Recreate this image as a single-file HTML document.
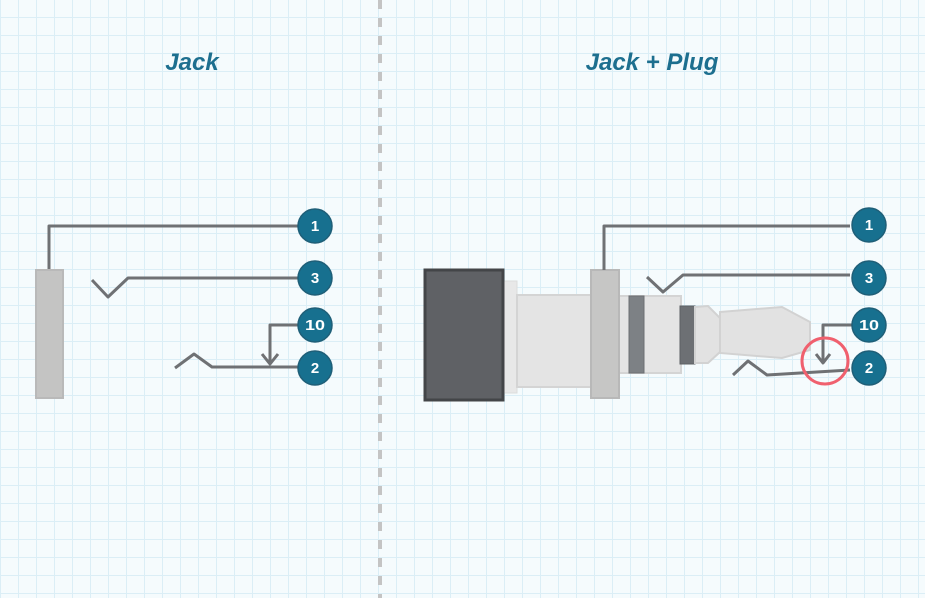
<!DOCTYPE html>
<html><head><meta charset="utf-8"><style>
html,body{margin:0;padding:0;background:#f5fbfd;}
svg{display:block}
</style></head><body>
<svg width="925" height="598" xmlns="http://www.w3.org/2000/svg">
<defs>
<pattern id="g" x="0" y="-1" width="18" height="18" patternUnits="userSpaceOnUse">
<path d="M0 0H18M0 0V18" stroke="#dbeef6" stroke-width="2" fill="none"/>
</pattern>
</defs>
<rect width="925" height="598" fill="#f5fbfd"/>
<rect width="925" height="598" fill="url(#g)"/>
<line x1="380" y1="0" x2="380" y2="598" stroke="#c4c4c4" stroke-width="4" stroke-dasharray="9 9"/>
<g font-family="Liberation Sans, sans-serif" font-style="italic" font-size="24" fill="#1d6f8f" text-anchor="middle" font-weight="600">
<text x="192" y="70">Jack</text>
<text x="652" y="70">Jack + Plug</text>
</g>
<g fill="none" stroke="#6f7174" stroke-width="3" stroke-linejoin="round">
<path d="M49 270V226H300"/>
<path d="M92 280L108 297L128 278H300"/>
<path d="M300 325H270V362"/>
<path d="M262 354L270 364L278 354"/>
<path d="M175 368L194 354L212 367H300"/>
</g>
<rect x="36" y="270" width="27" height="128" fill="#c4c4c3" stroke="#b9b9b9" stroke-width="2"/>
<rect x="503" y="281" width="14" height="112" fill="#e8e8e8" stroke="#dcdcdc"/>
<rect x="517" y="295" width="74" height="92" fill="#e4e4e4" stroke="#d4d4d4" stroke-width="2"/>
<rect x="619" y="296" width="62" height="77" fill="#e4e4e4" stroke="#d4d4d4" stroke-width="2"/>
<rect x="629" y="296" width="15" height="77" fill="#7d8185" stroke="#6d7074"/>
<rect x="680" y="306" width="15" height="58" fill="#6d7074" stroke="#5d6064"/>
<path d="M695 307L708 306L720 318V352L708 363L695 363Z" fill="#e2e2e2" stroke="#d2d2d2" stroke-width="2"/>
<path d="M720 312L782 307L810 322V350L782 358L720 353Z" fill="#e2e2e2" stroke="#d2d2d2" stroke-width="2"/>
<rect x="425" y="270" width="78" height="130" fill="#5f6165" stroke="#434548" stroke-width="3"/>
<rect x="591" y="270" width="28" height="128" fill="#c6c6c5" stroke="#b8b8b8" stroke-width="2"/>
<g fill="none" stroke="#6f7174" stroke-width="3" stroke-linejoin="round">
<path d="M604 270V226H850"/>
<path d="M647 277L663 292L683 275H850"/>
<path d="M852 325H823V362"/>
<path d="M816 354L823 363L830 354"/>
<path d="M733 375L748 361L767 375L850 370"/>
</g>
<circle cx="825" cy="361" r="23" fill="none" stroke="#f0606e" stroke-width="3"/>
<g fill="#17708f" stroke="#1f5f78" stroke-width="1.5">
<circle cx="315" cy="226" r="17"/><circle cx="315" cy="278" r="17"/>
<circle cx="315" cy="325" r="17"/><circle cx="315" cy="368" r="17"/>
<circle cx="869" cy="225" r="17"/><circle cx="869" cy="278" r="17"/>
<circle cx="869" cy="325" r="17"/><circle cx="869" cy="368" r="17"/>
</g>
<g font-family="Liberation Sans, sans-serif" font-size="15" font-weight="bold" fill="#fff" text-anchor="middle">
<text x="315" y="231">1</text><text x="315" y="283">3</text><text x="315" y="330" textLength="20" lengthAdjust="spacingAndGlyphs">10</text><text x="315" y="373">2</text>
<text x="869" y="230">1</text><text x="869" y="283">3</text><text x="869" y="330" textLength="20" lengthAdjust="spacingAndGlyphs">10</text><text x="869" y="373">2</text>
</g>
</svg>
</body></html>
